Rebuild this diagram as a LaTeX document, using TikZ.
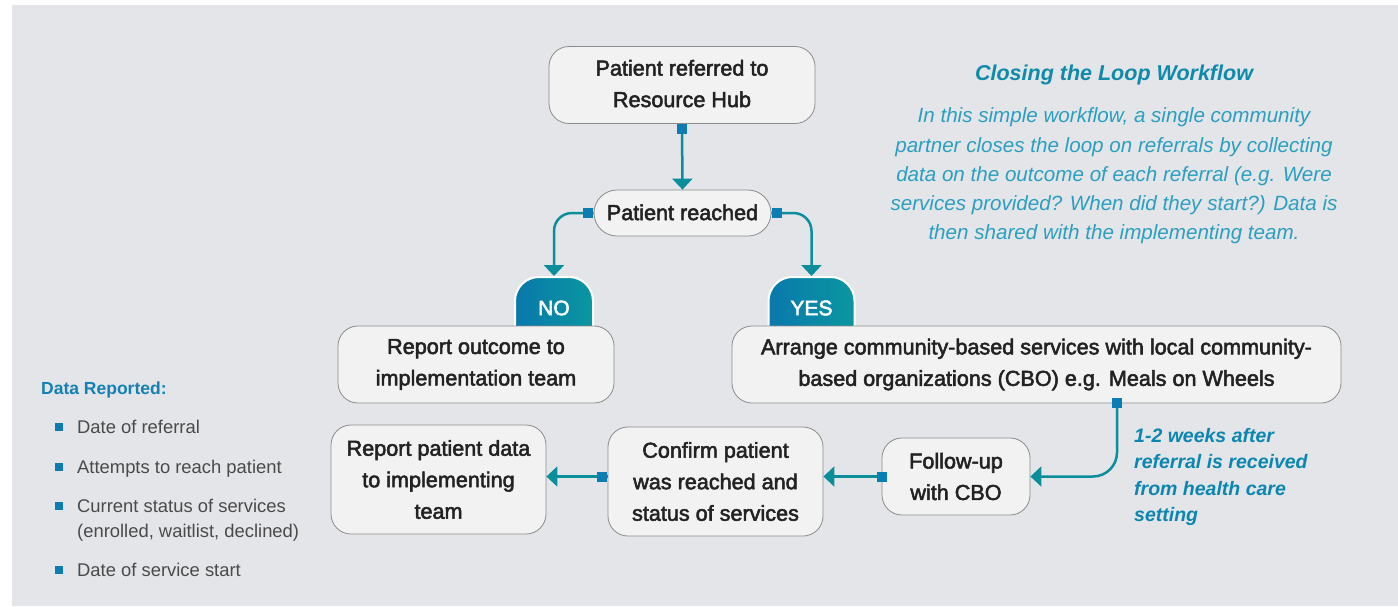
\documentclass[tikz,border=0pt]{standalone}
\usepackage{fontspec}
\setmainfont{Liberation Sans}
\newfontfamily\medfont[FakeBold=2.4]{Liberation Sans}
\usetikzlibrary{arrows.meta}
\definecolor{panel}{HTML}{E4E5E9}
\definecolor{boxfill}{HTML}{F2F2F2}
\definecolor{boxline}{HTML}{8C8C8C}
\definecolor{arrowc}{HTML}{0A8E9C}
\definecolor{sqc}{HTML}{0C7DB3}
\definecolor{tabl}{HTML}{0A78AC}
\definecolor{tabr}{HTML}{0A97A0}
\definecolor{titlec}{HTML}{0E8AAA}
\definecolor{parac}{HTML}{2A9FBF}
\definecolor{notec}{HTML}{0A86B0}
\definecolor{bluehead}{HTML}{1480B4}
\definecolor{txt}{HTML}{222222}
\definecolor{graytxt}{HTML}{4A4A4A}
\tikzset{
  box/.style={draw=boxline, line width=0.8pt, fill=boxfill, rounded corners=20pt,
    align=center, font=\medfont\fontsize{21.6}{31.5}\selectfont, text=txt, inner sep=0pt},
  tabbox/.style={draw=white, line width=2pt, left color=tabl, right color=tabr,
    rounded corners=24pt, minimum width=78pt, minimum height=100pt, anchor=north, inner sep=0pt},
  tablabel/.style={text=white, font=\medfont\fontsize{21}{25}\selectfont, inner sep=0pt},
  conn/.style={draw=arrowc, line width=2.5pt, -{Triangle[width=20pt,length=11pt]}},
  sqmark/.style={fill=sqc, minimum size=10pt, inner sep=0pt},
  bul/.style={fill=sqc, minimum size=8pt, inner sep=0pt},
  bultext/.style={anchor=base west, text=graytxt, font=\fontsize{18.4}{25}\selectfont, align=left, inner sep=0pt},
}
\begin{document}
\begin{tikzpicture}[x=1pt,y=-1pt]
\useasboundingbox (0,0) rectangle (1398,606);
\fill[panel] (12,5) rectangle (1398,606);

% tabs (behind boxes)
\node[tabbox] (notab) at (554,276) {};
\node[tabbox, minimum width=86pt] (yestab) at (811.5,276) {};
\node[tablabel] (nolbl) at (554,308) {NO};
\node[tablabel] (yeslbl) at (811.5,308) {YES};

% boxes
\node[box, minimum width=266pt, minimum height=77pt] (n1) at (682,85) {\raisebox{3pt}{\begin{tabular}{@{}c@{}}Patient referred to\\Resource Hub\end{tabular}}};
\node[box, minimum width=177pt, minimum height=46pt, rounded corners=23pt] (n2) at (682.5,213) {\raisebox{1.5pt}{Patient reached}};
\node[box, minimum width=276pt, minimum height=77pt] (n3) at (476,364.5) {Report outcome to\\implementation team};
\node[box, minimum width=609pt, minimum height=77pt] (n4) at (1036.5,364.5) {Arrange community-based services with local community-\\based organizations (CBO) e.g. Meals on Wheels};
\node[box, minimum width=215pt, minimum height=109pt] (n5) at (438.5,479.5) {Report patient data\\to implementing\\team};
\node[box, minimum width=215pt, minimum height=109pt] (n6) at (715.5,481.5) {Confirm patient\\was reached and\\status of services};
\node[box, minimum width=148pt, minimum height=77pt] (n7) at (956,476.5) {Follow-up\\with CBO};

% connectors
\draw[conn] (n1.south) -- (n2.north);
\draw[conn, rounded corners=18pt] (n2.west) -| (notab.north);
\draw[conn, rounded corners=18pt] (n2.east) -| (yestab.north);
\draw[conn, rounded corners=24pt] ([xshift=80.5pt]n4.south) |- (n7.east);
\draw[conn] (n7.west) -- (n7.west -| n6.east);
\draw[conn] (n6.west |- n7.west) -- (n5.east |- n7.west);

% square markers
\node[sqmark, anchor=north] (s1) at (n1.south) {};
\node[sqmark, anchor=east] (s2) at (n2.west) {};
\node[sqmark, anchor=west] (s3) at (n2.east) {};
\node[sqmark] (s4) at ([xshift=80.5pt]n4.south) {};
\node[sqmark] (s5) at (n7.west) {};
\node[sqmark, anchor=east] (s6) at (n6.west |- n7.west) {};

% right text
\node[font=\bfseries\itshape\fontsize{21.5}{26}\selectfont, text=titlec, inner sep=0pt] (title) at (1114,75) {Closing the Loop Workflow};
\node[align=center, font=\itshape\fontsize{20.6}{29.2}\selectfont, text=parac, inner sep=0pt] (para) at (1114,176) {In this simple workflow, a single community\\partner closes the loop on referrals by collecting\\data on the outcome of each referral (e.g. Were\\services provided? When did they start?) Data is\\then shared with the implementing team.};
\node[align=left, anchor=west, font=\bfseries\itshape\fontsize{19.5}{26.3}\selectfont, text=notec, inner sep=0pt] (note) at (1134,477) {1-2 weeks after\\referral is received\\from health care\\setting};

% data reported
\node[anchor=base west, font=\bfseries\fontsize{17.5}{22}\selectfont, text=bluehead, inner sep=0pt] (dr) at (41,394.5) {Data Reported:};
\node[bul] (b1) at (58.5,427) {};
\node[bul] (b2) at (58.5,467) {};
\node[bul] (b3) at (58.5,506) {};
\node[bul] (b4) at (58.5,570) {};
\node[bultext] (t1) at (77,433.5) {Date of referral};
\node[bultext] (t2) at (77,473.5) {Attempts to reach patient};
\node[bultext] (t3) at (77,537.5) {Current status of services\\(enrolled, waitlist, declined)};
\node[bultext] (t4) at (77,576.5) {Date of service start};
\end{tikzpicture}
\end{document}
